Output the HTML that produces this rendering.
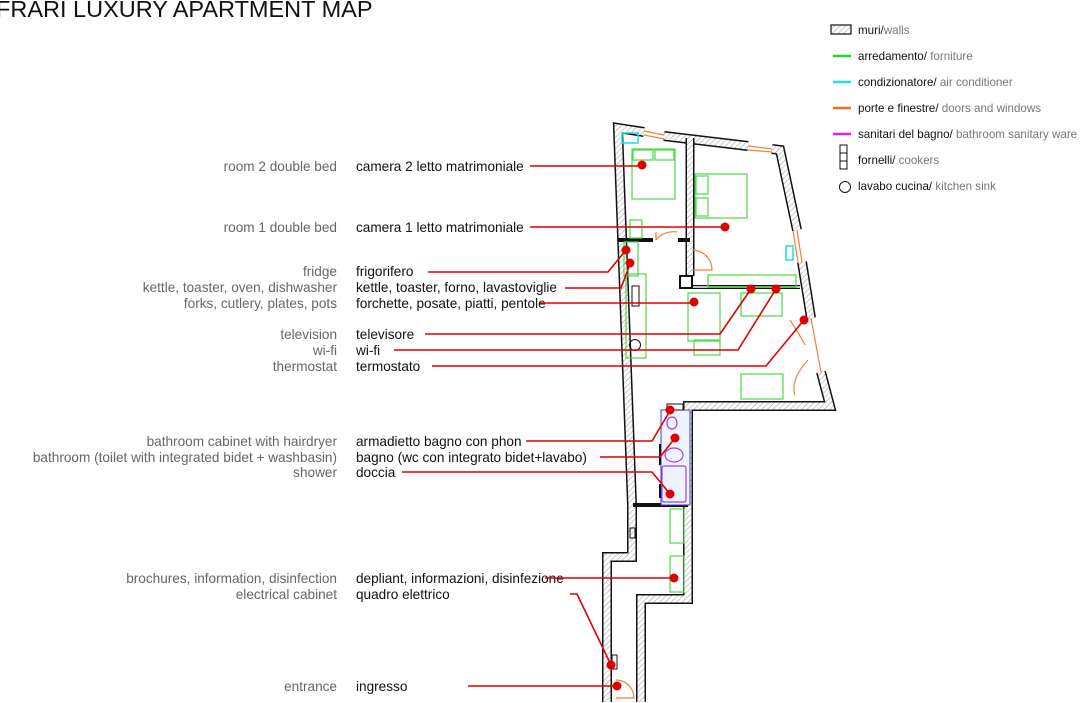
<!DOCTYPE html>
<html><head><meta charset="utf-8"><style>
html,body{margin:0;padding:0;background:#fff;}
svg{display:block;font-family:"Liberation Sans",Arial,sans-serif;}
.en{fill:#666;font-size:13.6px;text-anchor:end}
.it{fill:#111;font-size:13.6px}
.lg{font-size:11.6px;fill:#111}
.lg tspan{fill:#777}
.r{stroke:#e00000;stroke-width:1.6;fill:none}
.d{fill:#e00000}
.g{stroke:#4cd84c;stroke-width:1.2;fill:none}
.o{stroke:#f08040;stroke-width:1.2;fill:none}
</style></head><body>
<svg width="1080" height="703" viewBox="0 0 1080 703" xmlns="http://www.w3.org/2000/svg">
<defs>
<pattern id="h" width="4" height="4" patternUnits="userSpaceOnUse" patternTransform="rotate(45)">
<rect width="4" height="4" fill="#fff"/><line x1="0" y1="0" x2="0" y2="4" stroke="#999" stroke-width="1"/>
</pattern>
</defs>
<text x="-4" y="17" font-size="23.5" fill="#111">FRARI LUXURY APARTMENT MAP</text>

<!-- legend -->
<rect x="831" y="25" width="20" height="9" fill="url(#h)" stroke="#111" stroke-width="1.2"/>
<text class="lg" x="858" y="34">muri/<tspan>walls</tspan></text>
<line x1="833" y1="56" x2="851" y2="56" stroke="#22dd22" stroke-width="2.5"/>
<text class="lg" x="858" y="60">arredamento/ <tspan>forniture</tspan></text>
<line x1="833" y1="82" x2="851" y2="82" stroke="#22dddd" stroke-width="2.5"/>
<text class="lg" x="858" y="86">condizionatore/ <tspan>air conditioner</tspan></text>
<line x1="833" y1="108" x2="851" y2="108" stroke="#f07020" stroke-width="2.5"/>
<text class="lg" x="858" y="112">porte e finestre/ <tspan>doors and windows</tspan></text>
<line x1="833" y1="134" x2="851" y2="134" stroke="#e020e0" stroke-width="2.5"/>
<text class="lg" x="858" y="138">sanitari del bagno/ <tspan>bathroom sanitary ware</tspan></text>
<rect x="840" y="145" width="7" height="24" fill="none" stroke="#111" stroke-width="1"/>
<line x1="840" y1="153" x2="847" y2="153" stroke="#111"/><line x1="840" y1="161" x2="847" y2="161" stroke="#111"/>
<text class="lg" x="858" y="164">fornelli/ <tspan>cookers</tspan></text>
<circle cx="845" cy="187" r="5.5" fill="none" stroke="#111"/>
<text class="lg" x="858" y="190">lavabo cucina/ <tspan>kitchen sink</tspan></text>

<!-- walls -->
<g fill="none" stroke-linejoin="miter">
<path d="M632,505 L618,128 L644,132 M664,136 L748,146 M772,149 L780,150 L797,230 M802,262 L811,318 M821,372 L830,406 L688,406 L688,599 L641,599 L641,702 M607,702 L607,557 L632,557 L632,505" stroke="#111" stroke-width="10"/>
<path d="M632,505 L618,128 L644,132 M664,136 L748,146 M772,149 L780,150 L797,230 M802,262 L811,318 M821,372 L830,406 L688,406 L688,599 L641,599 L641,702 M607,702 L607,557 L632,557 L632,505" stroke="url(#h)" stroke-width="7"/>
<path d="M690,138 L690,276" stroke="#111" stroke-width="9"/>
<path d="M690,138 L690,276" stroke="url(#h)" stroke-width="6"/>
<path d="M618,240 L653,240 M678,240 L690,240 M633,505 L688,505" stroke="#111" stroke-width="4"/>
<path d="M690,287 L800,287" stroke="#111" stroke-width="4"/>
<path d="M690,287 L800,287" stroke="#fff" stroke-width="1.5"/>
</g>
<!-- windows / doors -->
<g class="o">
<path d="M644,131 L664,135 M644,135 L664,139"/>
<path d="M748,146 L772,149 M748,150 L772,152"/>
<path d="M797,230 L802,262 M793,231 L798,262"/>
<path d="M811,318 L821,372"/>
<path d="M656,240 A22,22 0 0 1 677,232 M656,240 L656,232"/>
<path d="M692,250 A20,20 0 0 1 712,270 L692,270"/>
<path d="M790,320 Q800,335 805,345 M795,395 Q790,380 808,360"/>
<path d="M616,680 A18,18 0 0 1 634,698 L616,698"/>
</g>
<!-- AC -->
<rect x="622" y="133" width="16" height="10" fill="none" stroke="#22dddd" stroke-width="1.5"/>
<rect x="786" y="246" width="7" height="14" fill="none" stroke="#22dddd" stroke-width="1.5"/>
<!-- furniture -->
<g class="g">
<rect x="632" y="149" width="43" height="50"/><rect x="633" y="150" width="20" height="10"/><rect x="655" y="150" width="19" height="10"/>
<rect x="630" y="220" width="12" height="18"/>
<rect x="695" y="174" width="52" height="44"/><rect x="696" y="176" width="12" height="18"/><rect x="696" y="198" width="12" height="18"/>
<rect x="624" y="242" width="14" height="34"/>
<rect x="626" y="274" width="20" height="84"/>
<rect x="688" y="293" width="32" height="48"/><rect x="694" y="340" width="26" height="15"/>
<rect x="708" y="275" width="88" height="12"/>
<rect x="741" y="293" width="41" height="23"/>
<rect x="741" y="374" width="42" height="25"/>
<rect x="670" y="509" width="14" height="34"/><rect x="670" y="556" width="14" height="36"/>
</g>
<rect x="632" y="286" width="7" height="20" fill="none" stroke="#111"/>
<circle cx="635" cy="345" r="5.5" fill="none" stroke="#111"/>
<rect x="680" y="276" width="12" height="12" fill="#fff" stroke="#111" stroke-width="2"/>
<rect x="630" y="528" width="5" height="10" fill="none" stroke="#111"/>
<rect x="612" y="655" width="5" height="14" fill="none" stroke="#111"/>
<!-- bathroom -->
<rect x="661" y="410" width="29" height="95" fill="#eef4ff" stroke="#4040c0" stroke-width="1"/>
<g fill="none" stroke="#a040e0" stroke-width="1.2">
<ellipse cx="672" cy="423" rx="5" ry="6"/>
<ellipse cx="674" cy="455" rx="9" ry="7"/>
<rect x="662" y="466" width="24" height="36" rx="2"/>
</g>
<line x1="660" y1="444" x2="660" y2="465" stroke="#111" stroke-width="2"/>
<line x1="660" y1="484" x2="660" y2="498" stroke="#111" stroke-width="2"/>
<rect x="667" y="404" width="16" height="6" fill="none" stroke="#111"/>

<!-- labels -->
<text class="en" x="337" y="171">room 2 double bed</text><text class="it" x="356" y="171">camera 2 letto matrimoniale</text>
<text class="en" x="337" y="232">room 1 double bed</text><text class="it" x="356" y="232">camera 1 letto matrimoniale</text>
<text class="en" x="337" y="276">fridge</text><text class="it" x="356" y="276">frigorifero</text>
<text class="en" x="337" y="292">kettle, toaster, oven, dishwasher</text><text class="it" x="356" y="292">kettle, toaster, forno, lavastoviglie</text>
<text class="en" x="337" y="308">forks, cutlery, plates, pots</text><text class="it" x="356" y="308">forchette, posate, piatti, pentole</text>
<text class="en" x="337" y="339">television</text><text class="it" x="356" y="339">televisore</text>
<text class="en" x="337" y="355">wi-fi</text><text class="it" x="356" y="355">wi-fi</text>
<text class="en" x="337" y="371">thermostat</text><text class="it" x="356" y="371">termostato</text>
<text class="en" x="337" y="446">bathroom cabinet with hairdryer</text><text class="it" x="356" y="446">armadietto bagno con phon</text>
<text class="en" x="337" y="462">bathroom (toilet with integrated bidet + washbasin)</text><text class="it" x="356" y="462">bagno (wc con integrato bidet+lavabo)</text>
<text class="en" x="337" y="477">shower</text><text class="it" x="356" y="477">doccia</text>
<text class="en" x="337" y="583">brochures, information, disinfection</text><text class="it" x="356" y="583">depliant, informazioni, disinfezione</text>
<text class="en" x="337" y="599">electrical cabinet</text><text class="it" x="356" y="599">quadro elettrico</text>
<text class="en" x="337" y="691">entrance</text><text class="it" x="356" y="691">ingresso</text>

<!-- leaders -->
<g class="r">
<path d="M530,166 L642,166"/>
<path d="M530,227 L725,227"/>
<path d="M428,272 L608,272 L626,250"/>
<path d="M565,288 L621,288 L630,264"/>
<path d="M540,303 L694,303"/>
<path d="M425,334 L720,334 L751,289"/>
<path d="M394,350 L738,350 L776,289"/>
<path d="M432,366 L766,366 L804,320"/>
<path d="M526,441 L652,441 L670,411"/>
<path d="M600,457 L660,457 L675,438"/>
<path d="M402,472 L652,472 L670,494"/>
<path d="M545,578 L674,578"/>
<path d="M570,594 L577,594 L611,665"/>
<path d="M468,686 L617,686"/>
</g>
<g class="d">
<circle cx="642" cy="165" r="4.5"/><circle cx="725" cy="227" r="4.5"/><circle cx="626" cy="250" r="4.5"/><circle cx="630" cy="263" r="4.5"/><circle cx="694" cy="302" r="4.5"/><circle cx="751" cy="289" r="4.5"/><circle cx="776" cy="289" r="4.5"/><circle cx="804" cy="320" r="4.5"/><circle cx="670" cy="410" r="4.5"/><circle cx="675" cy="438" r="4.5"/><circle cx="670" cy="494" r="4.5"/><circle cx="674" cy="578" r="4.5"/><circle cx="611" cy="665" r="4.5"/><circle cx="617" cy="686" r="4.5"/>
</g>
</svg>
</body></html>
